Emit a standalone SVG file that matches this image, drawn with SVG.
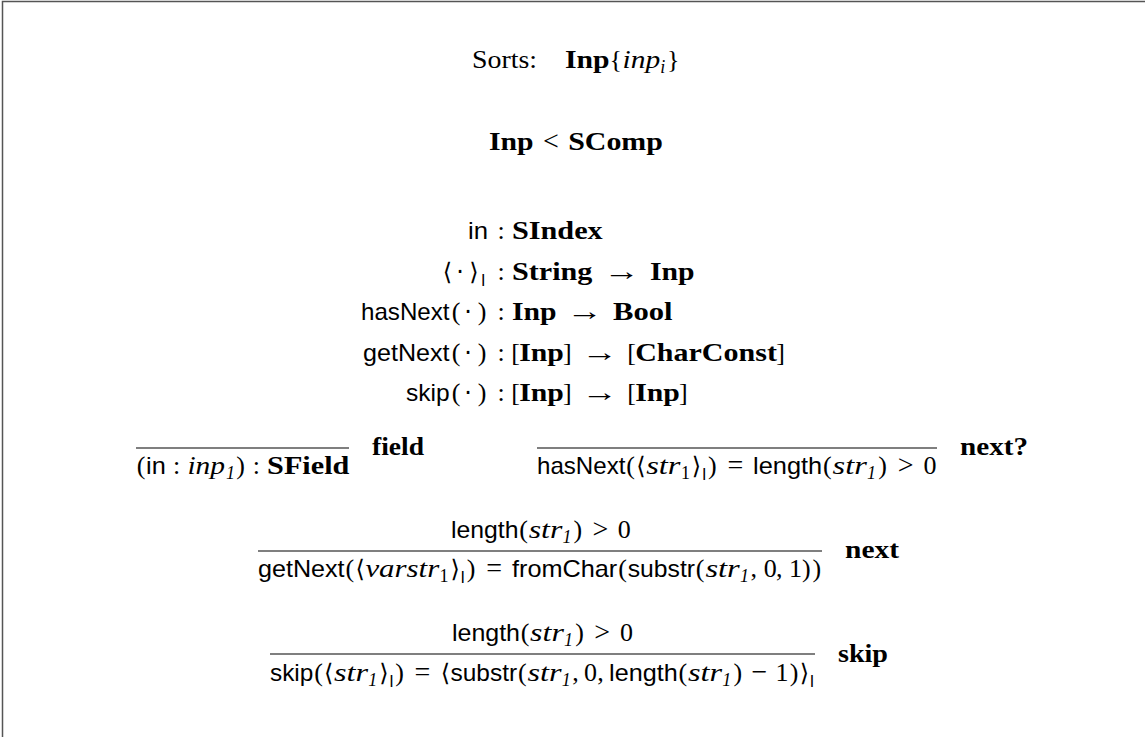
<svg xmlns="http://www.w3.org/2000/svg" width="1145" height="737" viewBox="0 0 1145 737">
<style>
text{fill:#000}
.r{font-family:"Liberation Serif",serif;font-size:26px}
.op{font-family:"Liberation Serif",serif;font-size:28px;text-anchor:middle}
.ar{font-family:"Liberation Serif",serif;font-size:26px;text-anchor:middle}
.b{font-family:"Liberation Serif",serif;font-size:26px;font-weight:bold}
.i{font-family:"Liberation Serif",serif;font-size:26px;font-style:italic}
.s{font-family:"Liberation Sans",sans-serif;font-size:24px}
.si{font-family:"Liberation Serif",serif;font-size:18px;font-style:italic}
.sr{font-family:"Liberation Serif",serif;font-size:18px}
.ss{font-family:"Liberation Sans",sans-serif;font-size:16px}
.m{font-family:"DejaVu Sans",sans-serif;font-size:24px}
.c{text-anchor:middle}
.rule{stroke:#555;stroke-width:1.6}
.frame{stroke:#555;stroke-width:1.5;fill:none}
</style>
<rect x="0" y="0" width="1145" height="737" fill="#fff"/>
<path class="frame" d="M2.5,737 V1.5 H1145"/>

<g id="sorts">
<text class="r" x="472" y="68" textLength="65" lengthAdjust="spacingAndGlyphs">Sorts:</text>
<text class="b" x="565" y="68" textLength="44.6" lengthAdjust="spacingAndGlyphs">Inp</text>
<text class="r" x="609.6" y="68">{</text>
<text class="i" x="622.6" y="68" textLength="37.6" lengthAdjust="spacingAndGlyphs">inp</text>
<text class="si" x="660.2" y="73">i</text>
<text class="r" x="667" y="68">}</text>
</g>

<g id="subsort">
<text class="b" x="489" y="150" textLength="44.6" lengthAdjust="spacingAndGlyphs">Inp</text>
<text class="op" x="550.9" y="150">&lt;</text>
<text class="b" x="568.2" y="150" textLength="94.7" lengthAdjust="spacingAndGlyphs">SComp</text>
</g>

<g id="sig-in">
<text class="s" x="468" y="239" textLength="20" lengthAdjust="spacingAndGlyphs">in</text>
<text class="r c" x="501" y="239">:</text>
<text class="b" x="512" y="239" textLength="90.7" lengthAdjust="spacingAndGlyphs">SIndex</text>
</g>

<g id="sig-string">
<text class="m c" x="447.5" y="280">⟨</text>
<text class="m c" x="460" y="280">·</text>
<text class="m c" x="474" y="280">⟩</text>
<text class="ss" x="481" y="286">I</text>
<text class="r c" x="501" y="280">:</text>
<text class="b" x="512" y="280" textLength="80.4" lengthAdjust="spacingAndGlyphs">String</text>
<text class="ar" transform="translate(622,280) scale(1.4,1)">→</text>
<text class="b" x="650" y="280" textLength="44.6" lengthAdjust="spacingAndGlyphs">Inp</text>
</g>

<g id="sig-hasnext">
<text class="s" x="361" y="320" textLength="88.5" lengthAdjust="spacingAndGlyphs">hasNext</text>
<text class="r c" x="456" y="320">(</text>
<text class="m c" x="468" y="320">·</text>
<text class="r c" x="482" y="320">)</text>
<text class="r c" x="501" y="320">:</text>
<text class="b" x="512" y="320" textLength="44.6" lengthAdjust="spacingAndGlyphs">Inp</text>
<text class="ar" transform="translate(585,320) scale(1.4,1)">→</text>
<text class="b" x="613" y="320" textLength="59.5" lengthAdjust="spacingAndGlyphs">Bool</text>
</g>

<g id="sig-getnext">
<text class="s" x="363" y="361" textLength="86.5" lengthAdjust="spacingAndGlyphs">getNext</text>
<text class="r c" x="456" y="361">(</text>
<text class="m c" x="468" y="361">·</text>
<text class="r c" x="482" y="361">)</text>
<text class="r c" x="501" y="361">:</text>
<text class="r c" x="515.6" y="361">[</text>
<text class="b" x="519.2" y="361" textLength="44.6" lengthAdjust="spacingAndGlyphs">Inp</text>
<text class="r c" x="567.4" y="361">]</text>
<text class="ar" transform="translate(600,361) scale(1.4,1)">→</text>
<text class="r c" x="631.6" y="361">[</text>
<text class="b" x="635.2" y="361" textLength="141.7" lengthAdjust="spacingAndGlyphs">CharConst</text>
<text class="r c" x="780.5" y="361">]</text>
</g>

<g id="sig-skip">
<text class="s" x="406" y="401" textLength="43.6" lengthAdjust="spacingAndGlyphs">skip</text>
<text class="r c" x="456" y="401">(</text>
<text class="m c" x="468" y="401">·</text>
<text class="r c" x="482" y="401">)</text>
<text class="r c" x="501" y="401">:</text>
<text class="r c" x="515.6" y="401">[</text>
<text class="b" x="519.2" y="401" textLength="44.6" lengthAdjust="spacingAndGlyphs">Inp</text>
<text class="r c" x="567.4" y="401">]</text>
<text class="ar" transform="translate(600,401) scale(1.4,1)">→</text>
<text class="r c" x="631.6" y="401">[</text>
<text class="b" x="635.2" y="401" textLength="44.6" lengthAdjust="spacingAndGlyphs">Inp</text>
<text class="r c" x="683.4" y="401">]</text>
</g>

<g id="rule-field">
<line class="rule" x1="136" y1="448" x2="349" y2="448"/>
<text class="r c" x="141" y="474">(</text>
<text class="s" x="146.1" y="474" textLength="19.7" lengthAdjust="spacingAndGlyphs">in</text>
<text class="r c" x="176.6" y="474">:</text>
<text class="i" x="187.4" y="474" textLength="37.6" lengthAdjust="spacingAndGlyphs">inp</text>
<text class="si" x="226" y="479">1</text>
<text class="r c" x="240.5" y="474">)</text>
<text class="r c" x="256.3" y="474">:</text>
<text class="b" x="267.1" y="474" textLength="82.3" lengthAdjust="spacingAndGlyphs">SField</text>
<text class="b" x="372" y="455" textLength="52" lengthAdjust="spacingAndGlyphs">field</text>
</g>

<g id="rule-next-q">
<line class="rule" x1="537" y1="448" x2="937" y2="448"/>
<text class="s" x="537" y="474" textLength="88.4" lengthAdjust="spacingAndGlyphs">hasNext</text>
<text class="r c" x="630.6" y="474">(</text>
<text class="m c" x="641" y="474">⟨</text>
<text class="i" x="646.2" y="474" textLength="34.3" lengthAdjust="spacingAndGlyphs">str</text>
<text class="sr" x="681" y="479">1</text>
<text class="m c" x="696.4" y="474">⟩</text>
<text class="ss" x="702" y="480">I</text>
<text class="r c" x="712.3" y="474">)</text>
<text class="op" x="735.3" y="474">=</text>
<text class="s" x="753.1" y="474" textLength="69" lengthAdjust="spacingAndGlyphs">length</text>
<text class="r c" x="827.3" y="474">(</text>
<text class="i" x="832.5" y="474" textLength="34.3" lengthAdjust="spacingAndGlyphs">str</text>
<text class="si" x="867" y="479">1</text>
<text class="r c" x="882.7" y="474">)</text>
<text class="op" x="905.7" y="474">&gt;</text>
<text class="r" x="923.6" y="474">0</text>
<text class="b" x="960" y="455" textLength="68" lengthAdjust="spacingAndGlyphs">next?</text>
</g>

<g id="rule-next">
<text class="s" x="451" y="538" textLength="67.5" lengthAdjust="spacingAndGlyphs">length</text>
<text class="r c" x="523.6" y="538">(</text>
<text class="i" x="528.7" y="538" textLength="33.6" lengthAdjust="spacingAndGlyphs">str</text>
<text class="si" x="562.5" y="543">1</text>
<text class="r c" x="577.9" y="538">)</text>
<text class="op" x="600.4" y="538">&gt;</text>
<text class="r" x="617.8" y="538">0</text>
<line class="rule" x1="258" y1="551" x2="822" y2="551"/>
<text class="s" x="258" y="577" textLength="86.6" lengthAdjust="spacingAndGlyphs">getNext</text>
<text class="r c" x="349.8" y="577">(</text>
<text class="m c" x="360.2" y="577">⟨</text>
<text class="i" x="365.4" y="577" textLength="73.8" lengthAdjust="spacingAndGlyphs">varstr</text>
<text class="sr" x="439.5" y="582">1</text>
<text class="m c" x="455.1" y="577">⟩</text>
<text class="ss" x="460.6" y="583">I</text>
<text class="r c" x="471" y="577">)</text>
<text class="op" x="494.1" y="577">=</text>
<text class="s" x="512" y="577" textLength="105.3" lengthAdjust="spacingAndGlyphs">fromChar</text>
<text class="r c" x="622.5" y="577">(</text>
<text class="s" x="627.7" y="577" textLength="67.3" lengthAdjust="spacingAndGlyphs">substr</text>
<text class="r c" x="700.2" y="577">(</text>
<text class="i" x="705.4" y="577" textLength="34.4" lengthAdjust="spacingAndGlyphs">str</text>
<text class="si" x="740" y="582">1</text>
<text class="r" x="750.5" y="577">,</text>
<text class="r" x="763.8" y="577">0</text>
<text class="r" x="775.9" y="577">,</text>
<text class="r" x="789.1" y="577">1</text>
<text class="r c" x="806.3" y="577">)</text>
<text class="r c" x="816.8" y="577">)</text>
<text class="b" x="845" y="558" textLength="54" lengthAdjust="spacingAndGlyphs">next</text>
</g>

<g id="rule-skip">
<text class="s" x="452" y="641" textLength="68" lengthAdjust="spacingAndGlyphs">length</text>
<text class="r c" x="525" y="641">(</text>
<text class="i" x="530.1" y="641" textLength="33.8" lengthAdjust="spacingAndGlyphs">str</text>
<text class="si" x="564" y="646">1</text>
<text class="r c" x="579.6" y="641">)</text>
<text class="op" x="602.2" y="641">&gt;</text>
<text class="r" x="619.9" y="641">0</text>
<line class="rule" x1="270" y1="654" x2="815" y2="654"/>
<text class="s" x="270" y="681" textLength="43.3" lengthAdjust="spacingAndGlyphs">skip</text>
<text class="r c" x="318.5" y="681">(</text>
<text class="m c" x="328.8" y="681">⟨</text>
<text class="i" x="334" y="681" textLength="34.1" lengthAdjust="spacingAndGlyphs">str</text>
<text class="si" x="368.3" y="686">1</text>
<text class="m c" x="383.9" y="681">⟩</text>
<text class="ss" x="389.2" y="687">I</text>
<text class="r c" x="399.7" y="681">)</text>
<text class="op" x="422.5" y="681">=</text>
<text class="m c" x="445.4" y="681">⟨</text>
<text class="s" x="450.5" y="681" textLength="66.6" lengthAdjust="spacingAndGlyphs">substr</text>
<text class="r c" x="522.4" y="681">(</text>
<text class="i" x="527.5" y="681" textLength="34.1" lengthAdjust="spacingAndGlyphs">str</text>
<text class="si" x="561.8" y="686">1</text>
<text class="r" x="572.2" y="681">,</text>
<text class="r" x="584" y="681">0</text>
<text class="r" x="597.3" y="681">,</text>
<text class="s" x="609.1" y="681" textLength="68.6" lengthAdjust="spacingAndGlyphs">length</text>
<text class="r c" x="682.9" y="681">(</text>
<text class="i" x="688" y="681" textLength="34.1" lengthAdjust="spacingAndGlyphs">str</text>
<text class="si" x="722.3" y="686">1</text>
<text class="r c" x="737.9" y="681">)</text>
<text class="op" x="759.3" y="681">−</text>
<text class="r" x="775.6" y="681">1</text>
<text class="r c" x="794.1" y="681">)</text>
<text class="m c" x="804.5" y="681">⟩</text>
<text class="ss" x="809.8" y="687">I</text>
<text class="b" x="838" y="662" textLength="50" lengthAdjust="spacingAndGlyphs">skip</text>
</g>
</svg>
